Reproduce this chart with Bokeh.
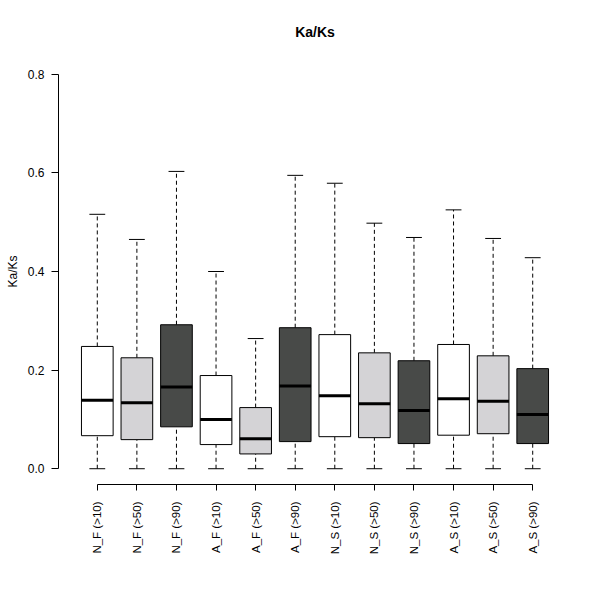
import math
from bokeh.plotting import figure
from bokeh.models import Range1d, FixedTicker, ColumnDataSource
from bokeh.embed import file_html
from bokeh.resources import INLINE

# ---- data ----
labels = ["N_F (>10)", "N_F (>50)", "N_F (>90)", "A_F (>10)", "A_F (>50)", "A_F (>90)",
          "N_S (>10)", "N_S (>50)", "N_S (>90)", "A_S (>10)", "A_S (>50)", "A_S (>90)"]
whisker_high = [0.516, 0.465, 0.603, 0.400, 0.264, 0.595, 0.579, 0.498, 0.469, 0.525, 0.467, 0.428]
upper_quartile = [0.248, 0.225, 0.292, 0.189, 0.124, 0.286, 0.272, 0.235, 0.219, 0.252, 0.229, 0.203]
medians = [0.139, 0.134, 0.166, 0.100, 0.061, 0.168, 0.148, 0.132, 0.118, 0.142, 0.137, 0.110]
lower_quartile = [0.067, 0.059, 0.085, 0.049, 0.030, 0.055, 0.065, 0.063, 0.051, 0.068, 0.071, 0.051]
whisker_low = [0.0, 0.0, 0.0, 0.0, 0.0, 0.0, 0.0, 0.0, 0.0, 0.0, 0.0, 0.0]
y_ticks = [0.0, 0.2, 0.4, 0.6, 0.8]
y_tick_labels = ["0.0", "0.2", "0.4", "0.6", "0.8"]

# ---- styles ----
fill_cycle = ["#ffffff", "#d4d3d6", "#484a48"]
FONT = "Liberation Sans"
BOX_W = 0.8
CAP_W = 0.4

positions = list(range(1, len(labels) + 1))
fills = [fill_cycle[i % 3] for i in range(len(labels))]

src = ColumnDataSource(dict(
    x=positions,
    hi=whisker_high,
    q3=upper_quartile,
    med=medians,
    q1=lower_quartile,
    lo=whisker_low,
    fill=fills,
    x0=[p - BOX_W / 2 for p in positions],
    x1=[p + BOX_W / 2 for p in positions],
    c0=[p - CAP_W / 2 for p in positions],
    c1=[p + CAP_W / 2 for p in positions],
))

p = figure(width=592, height=592, output_backend="svg", toolbar_location=None,
           x_range=Range1d(0.02, 12.98), y_range=Range1d(-0.032, 0.832),
           min_border_left=58, min_border_right=21, min_border_top=58, min_border_bottom=108,
           title="Ka/Ks")
p.background_fill_color = "white"
p.border_fill_color = "white"
p.outline_line_color = None
p.grid.visible = False

p.title.align = "center"
p.title.text_font = FONT
p.title.text_font_size = "14px"
p.title.text_font_style = "bold"
p.title.text_color = "#000000"
p.title.standoff = 37

# whiskers
p.segment(x0="x", y0="q3", x1="x", y1="hi", source=src, line_color="black",
          line_width=1, line_dash="4 3")
p.segment(x0="x", y0="lo", x1="x", y1="q1", source=src, line_color="black",
          line_width=1, line_dash="4 3")
# caps
p.segment(x0="c0", y0="hi", x1="c1", y1="hi", source=src, line_color="black", line_width=1)
p.segment(x0="c0", y0="lo", x1="c1", y1="lo", source=src, line_color="black", line_width=1)
# boxes
p.vbar(x="x", width=BOX_W, top="q3", bottom="q1", source=src, fill_color="fill",
       line_color="black", line_width=1)
# medians
p.segment(x0="x0", y0="med", x1="x1", y1="med", source=src, line_color="black", line_width=3)

# y axis
ya = p.yaxis[0]
ya.ticker = FixedTicker(ticks=y_ticks)
ya.major_label_overrides = {t: l for t, l in zip(y_ticks, y_tick_labels)}
ya.bounds = (0, 0.8)
ya.minor_tick_line_color = None
ya.major_tick_in = 0
ya.major_tick_out = 7
ya.major_label_standoff = 7
ya.major_label_text_font = FONT
ya.major_label_text_font_size = "12px"
ya.major_label_text_color = "#000000"
ya.axis_line_color = "black"
ya.major_tick_line_color = "black"
ya.axis_label = "Ka/Ks"
ya.axis_label_text_font = FONT
ya.axis_label_text_font_size = "12px"
ya.axis_label_text_font_style = "normal"
ya.axis_label_text_color = "#000000"
ya.axis_label_standoff = 5

# x axis
xa = p.xaxis[0]
xa.ticker = FixedTicker(ticks=positions)
xa.major_label_overrides = {pos: lab for pos, lab in zip(positions, labels)}
xa.bounds = (1, len(labels))
xa.minor_tick_line_color = None
xa.major_tick_in = 0
xa.major_tick_out = 6
xa.major_label_standoff = 11
xa.major_label_orientation = math.pi / 2
xa.major_label_text_font = FONT
xa.major_label_text_font_size = "11.5px"
xa.major_label_text_color = "#000000"
xa.axis_line_color = "black"
xa.major_tick_line_color = "black"

open("out.html", "w").write(file_html(p, INLINE))
